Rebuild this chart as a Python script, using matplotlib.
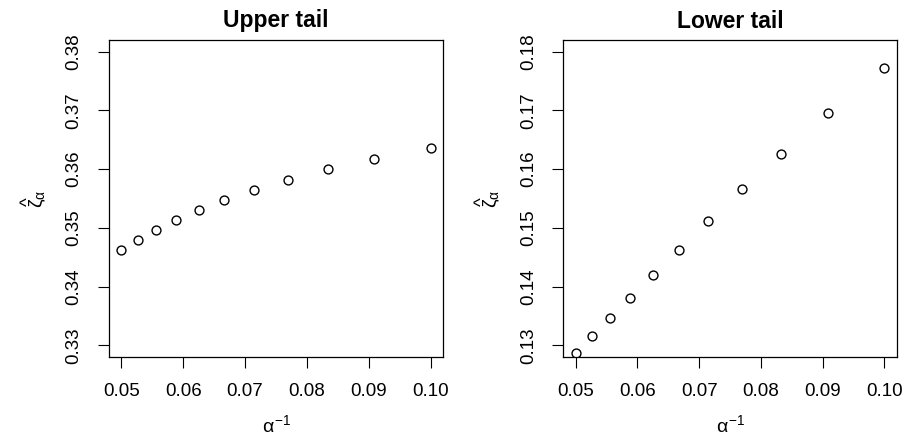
import matplotlib
matplotlib.use("Agg")
import matplotlib.pyplot as plt

plt.rcParams['font.family'] = ['Liberation Sans', 'DejaVu Sans']
plt.rcParams['mathtext.fontset'] = 'custom'
plt.rcParams['mathtext.rm'] = 'Liberation Sans'
plt.rcParams['mathtext.it'] = 'Liberation Sans'

alpha_inv = [1/20, 1/19, 1/18, 1/17, 1/16, 1/15, 1/14, 1/13, 1/12, 1/11, 1/10]
upper = [0.34625, 0.34796, 0.34961, 0.35127, 0.35298, 0.35474,
         0.35645, 0.35822, 0.35999, 0.36176, 0.36358]
lower = [0.12875, 0.13154, 0.13462, 0.13810, 0.14192, 0.14625,
         0.15109, 0.15657, 0.16261, 0.16951, 0.17715]
titles = ["Upper tail", "Lower tail"]
ylims = [(0.33, 0.38), (0.13, 0.18)]
xticks = [0.05, 0.06, 0.07, 0.08, 0.09, 0.10]

fig = plt.figure(figsize=(9.06, 4.38), dpi=100)
positions = [[109/906, 81/438, 334/906, 317/438],
             [563.3/906, 81/438, 333.4/906, 317/438]]

for pos, ys, title, yl in zip(positions, [upper, lower], titles, ylims):
    ax = fig.add_axes(pos)
    ax.plot(alpha_inv, ys, linestyle='none', marker='o', markersize=6.4,
            markerfacecolor='none', markeredgecolor='black', markeredgewidth=1.0)
    r = 0.10 - 0.05
    ax.set_xlim(0.05 - 0.04 * r, 0.10 + 0.04 * r)
    yr = yl[1] - yl[0]
    ax.set_ylim(yl[0] - 0.04 * yr, yl[1] + 0.04 * yr)
    ax.set_xticks(xticks)
    ax.set_xticklabels([f"{t:.2f}" for t in xticks])
    yt = [round(yl[0] + 0.01 * i, 2) for i in range(6)]
    ax.set_yticks(yt)
    ax.set_yticklabels([f"{t:.2f}" for t in yt], rotation=90, va='center')
    ax.tick_params(direction='out', length=8, width=0.8, labelsize=13.5, pad=11)
    for s in ax.spines.values():
        s.set_linewidth(0.9)
    ax.set_title(title, fontsize=16.5, fontweight='bold', pad=9)
    ax.set_xlabel(r'$\alpha^{-1}$', fontsize=14, labelpad=10)
    ax.set_ylabel(r'$\widehat{\zeta}_{\alpha}$', fontsize=14, labelpad=12)

fig.savefig("out.png", dpi=100)
